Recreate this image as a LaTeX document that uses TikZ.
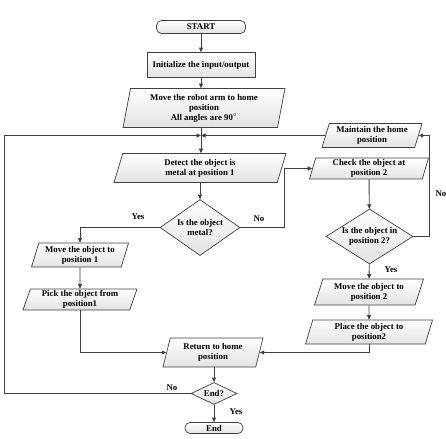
\documentclass[tikz,border=0pt]{standalone}
\usepackage{fontspec}
\setmainfont{Liberation Serif}
\usetikzlibrary{shapes.geometric,arrows.meta}
\newlength{\du}
\setlength{\du}{1pt}
\definecolor{dialinecolor}{rgb}{0.250000, 0.250000, 0.250000}
\tikzset{
  flowtext/.style={font=\fontsize{8.8}{10}\selectfont\bfseries, align=center},
  flowline/.style={draw=dialinecolor, line width=0.9\du},
  flowarrow/.style={flowline, -{Triangle[length=4.5pt,width=4pt]}},
  boxfill/.style={draw=dialinecolor, line width=0.7\du, top color=white, bottom color=gray!22},
  iobox/.style={trapezium, trapezium left angle=68, trapezium right angle=112,
    trapezium stretches body, boxfill, flowtext, inner sep=0pt},
  procbox/.style={rectangle, boxfill, flowtext, inner sep=0pt},
  decision/.style={diamond, boxfill, flowtext, inner sep=0pt},
  terminal/.style={rectangle, rounded corners=5\du, boxfill, flowtext, inner sep=0pt},
  flowlabel/.style={font=\fontsize{8.8}{10}\selectfont\bfseries, inner sep=0pt}
}
\begin{document}
\begin{tikzpicture}
\pgftransformxscale{1.000000}
\pgftransformyscale{-1.000000}
\useasboundingbox (0\du,0\du) rectangle (446\du,438\du);
% main column
\node[terminal, minimum width=89\du, minimum height=13\du] (start) at (201\du,27\du) {START};
\node[procbox, minimum width=108\du, minimum height=25\du] (init) at (201\du,65\du) {Initialize the input/output};
\node[iobox, trapezium left angle=75, trapezium right angle=105, minimum width=162\du, minimum height=39\du] (robot) at (204\du,108\du) {Move the robot arm to home\\position\\All angles are 90$^{\circ}$};
\coordinate (join) at (201\du,135.5\du);
\node[iobox, trapezium left angle=64, trapezium right angle=116, minimum width=172\du, minimum height=29\du] (detect) at (200\du,168\du) {Detect the object is\\metal at position 1};
\node[decision, minimum width=80\du, minimum height=56\du, aspect=1.43] (metal) at (200\du,227.5\du) {Is the object\\metal?};
% left column
\node[iobox, minimum width=97\du, minimum height=24\du] (move1) at (80\du,255\du) {Move the object to\\position 1};
\node[iobox, minimum width=114\du, minimum height=21\du] (pick) at (80\du,299.5\du) {Pick the object from\\position1};
% right column
\node[iobox, minimum width=100\du, minimum height=24\du] (maintain) at (372\du,135.5\du) {Maintain the home\\position};
\node[iobox, trapezium left angle=71, trapezium right angle=109, minimum width=119\du, minimum height=21\du] (check) at (369\du,168.5\du) {Check the object at\\position 2};
\node[decision, minimum width=87\du, minimum height=55\du, aspect=1.58] (inpos2) at (369.5\du,236.5\du) {Is the object in\\position 2?};
\node[iobox, trapezium left angle=65, trapezium right angle=115, minimum width=109\du, minimum height=26\du] (move2) at (369\du,292\du) {Move the object to\\position 2};
\node[iobox, minimum width=127\du, minimum height=24\du] (place) at (369\du,332\du) {Place the object to\\position2};
% bottom
\node[iobox, minimum width=100\du, minimum height=29\du] (ret) at (213\du,352.5\du) {Return to home\\position};
\node[decision, minimum width=46\du, minimum height=22\du, aspect=2] (enddia) at (214\du,393.5\du) {End?};
\node[terminal, minimum width=58\du, minimum height=11\du] (stop) at (214\du,428\du) {End};
\coordinate (lcorner) at (4.5\du,135.5\du);
\coordinate (rjog) at (429.5\du,135.5\du);
% labels
\node[flowlabel] (yesmetal) at (138\du,217\du) {Yes};
\node[flowlabel] (nometal) at (259\du,219\du) {No};
\node[flowlabel] (nopos2) at (441\du,194\du) {No};
\node[flowlabel] (yespos2) at (391\du,270\du) {Yes};
\node[flowlabel] (noend) at (172\du,388\du) {No};
\node[flowlabel] (yesend) at (236\du,412\du) {Yes};
% connectors
\draw[flowarrow] (start) -- (init);
\draw[flowarrow] (init) -- (robot.north -| init);
\draw[flowline] (robot.south -| join) -- (join);
\draw[flowarrow] (join) -- (detect.north -| join);
\draw[flowarrow] (detect.south -| metal) -- (metal);
\draw[flowarrow] (metal.west) -| (move1);
\draw[flowarrow] (move1) -- (pick);
\draw[flowarrow] (pick.south) |- (ret);
\draw[flowarrow] (metal.east) -- ++(44\du,0\du) |- (check);
\draw[flowarrow] (check) -- (inpos2);
\draw[flowarrow] (inpos2.east) -| (rjog) -- (maintain);
\draw[flowarrow] (maintain) -- (join);
\draw[flowarrow] (inpos2) -- (move2);
\draw[flowarrow] (move2) -- (place);
\draw[flowarrow] (place.south) |- (ret);
\draw[flowarrow] (ret.south -| enddia) -- (enddia);
\draw[flowarrow] (enddia) -- (stop);
\draw[flowarrow] (enddia.west) -| (lcorner) -- (join);
\end{tikzpicture}
\end{document}
